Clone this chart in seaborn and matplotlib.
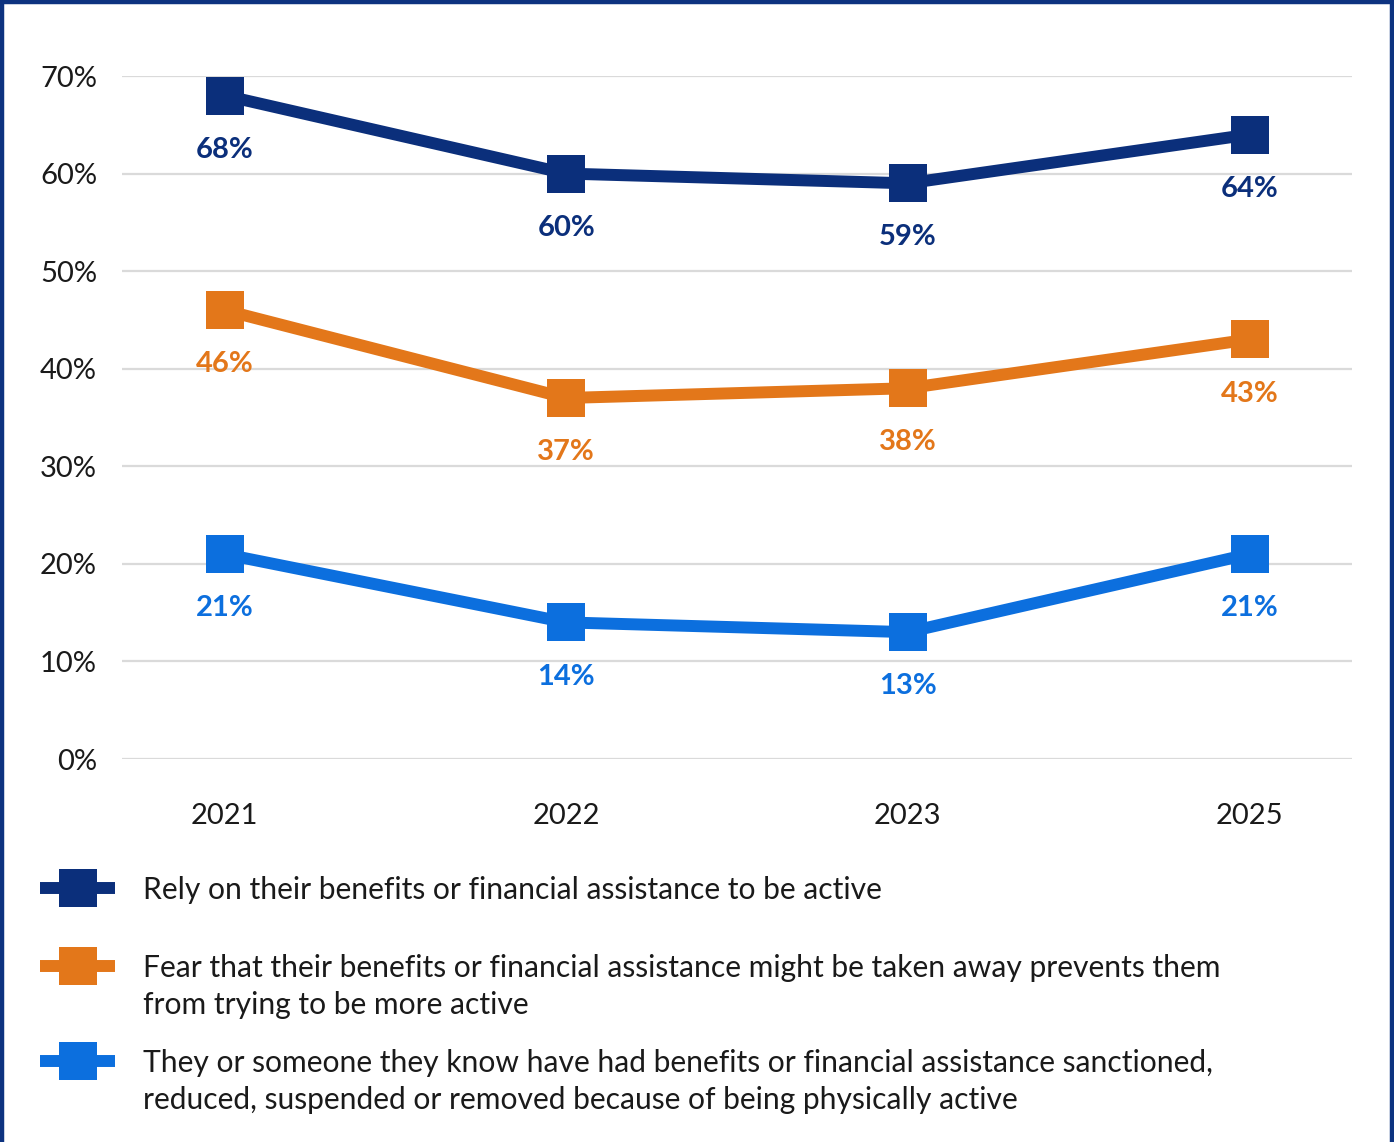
import matplotlib
matplotlib.use("Agg")
import matplotlib.pyplot as plt
from matplotlib.lines import Line2D
import seaborn as sns
import pandas as pd

# Survey waves and shares (%) for each statement
years = ["2021", "2022", "2023", "2025"]
rely_on_benefits = [68, 60, 59, 64]
fear_losing_benefits = [46, 37, 38, 43]
benefits_sanctioned = [21, 14, 13, 21]

series_labels = [
    "Rely on their benefits or financial assistance to be active",
    "Fear that their benefits or financial assistance might be taken away prevents them\nfrom trying to be more active",
    "They or someone they know have had benefits or financial assistance sanctioned,\nreduced, suspended or removed because of being physically active",
]
series_values = [rely_on_benefits, fear_losing_benefits, benefits_sanctioned]
colors = ["#0b2f7b", "#e3771a", "#0c6fde"]
y_ticks = [0, 10, 20, 30, 40, 50, 60, 70]

FONT = "Lato"
sns.set_theme(style="white")
plt.rcParams["font.family"] = [FONT, "DejaVu Sans"]

df = pd.DataFrame(
    [(y, v, lab) for lab, vals in zip(series_labels, series_values) for y, v in zip(years, vals)],
    columns=["year", "share", "series"],
)

W, H, DPI = 1394, 1142, 100
fig = plt.figure(figsize=(W / DPI, H / DPI), dpi=DPI)
fig.patch.set_facecolor("white")
ax = fig.add_axes([122 / W, 1 - 759 / H, 1230 / W, 683 / H])

sns.lineplot(
    data=df, x="year", y="share", hue="series", palette=colors,
    marker="s", markersize=27.5, markeredgewidth=0, linewidth=8.6,
    legend=False, ax=ax, sort=False,
)
for line in ax.lines:
    line.set_clip_on(False)

# Value labels under each marker
for vals, col in zip(series_values, colors):
    for i, v in enumerate(vals):
        ax.annotate(f"{v}%", (i, v), xytext=(0, -39), textcoords="offset points",
                    ha="center", va="center", fontsize=21, fontweight="bold",
                    color=col)

ax.set_xlim(-0.3, 3.3)
ax.set_ylim(0, 70)
ax.set_yticks(y_ticks)
ax.set_yticklabels([f"{t}%" for t in y_ticks])
ax.set_xlabel("")
ax.set_ylabel("")
ax.grid(axis="y", color="#dadada", linewidth=1.6)
ax.grid(axis="x", visible=False)
ax.set_axisbelow(True)
for s in ax.spines.values():
    s.set_visible(False)
ax.tick_params(axis="y", length=0, pad=18, labelsize=21, labelcolor="#1a1a1a")
ax.tick_params(axis="x", length=0, pad=32, labelsize=21, labelcolor="#1a1a1a")

# Legend: line-with-square handles and wrapped descriptions
legend_rows = [888, 966, 1061]
for row_y, lab, col in zip(legend_rows, series_labels, colors):
    fy = 1 - row_y / H
    fig.add_artist(Line2D([40 / W, 115 / W], [fy, fy], transform=fig.transFigure,
                          color=col, linewidth=8.6, solid_capstyle="butt"))
    fig.add_artist(Line2D([77.5 / W], [fy], transform=fig.transFigure, color=col,
                          marker="s", markersize=27.5, markeredgewidth=0))
    fig.text(143 / W, 1 - (row_y - 12) / H, lab, ha="left", va="top", fontsize=21.6,
             color="#1a1a1a", linespacing=1.39, transform=fig.transFigure)

# Navy frame on the top and sides
frame = "#0d3380"
for xs, ys in [([0, 1], [1 - 2 / H, 1 - 2 / H]),
               ([2 / W, 2 / W], [0, 1]),
               ([1 - 2 / W, 1 - 2 / W], [0, 1])]:
    fig.add_artist(Line2D(xs, ys, transform=fig.transFigure, color=frame, linewidth=3.2))

fig.savefig("out.png", dpi=DPI, facecolor="white")
